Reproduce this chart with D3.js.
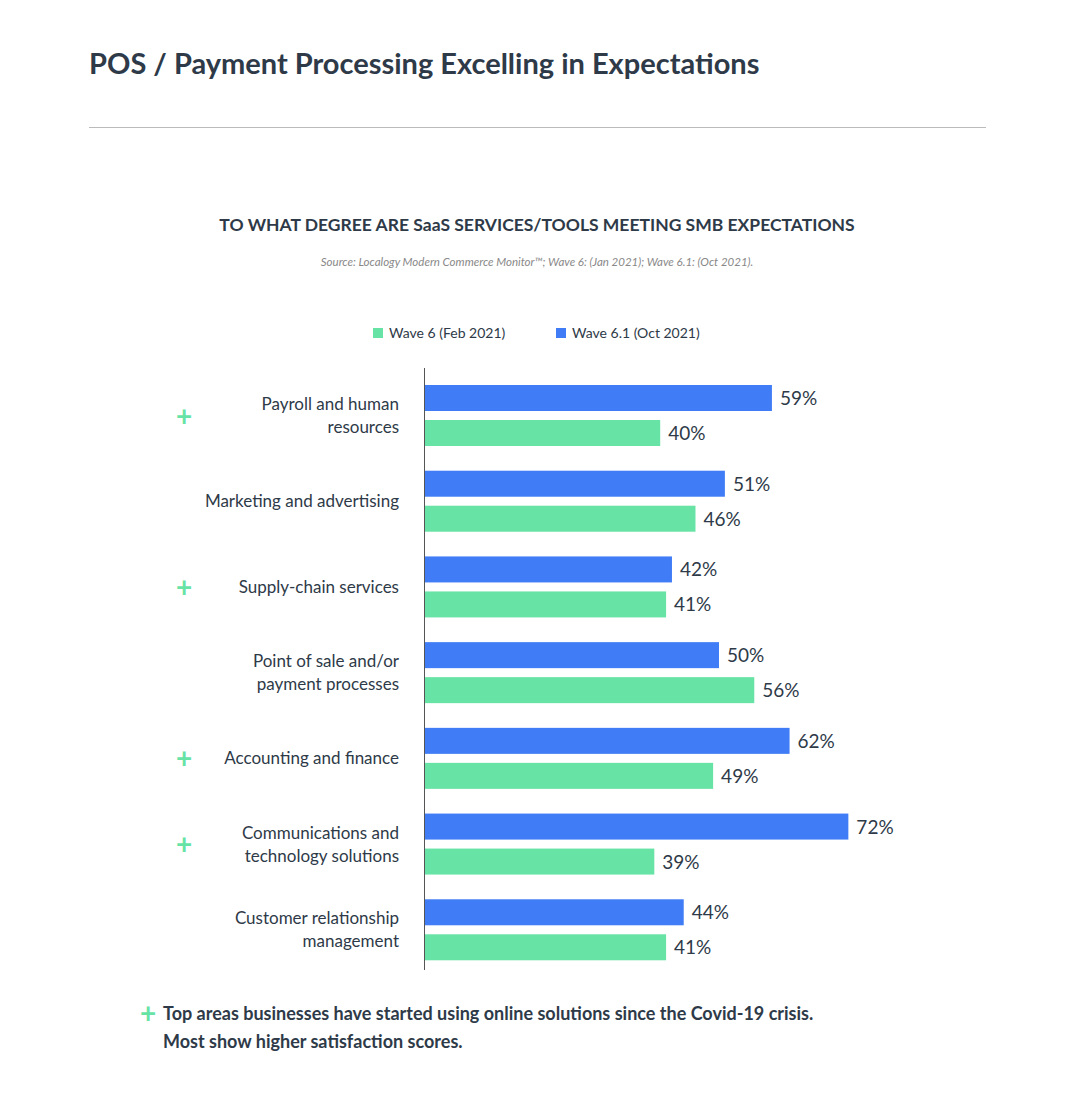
<!DOCTYPE html>
<html><head><meta charset="utf-8">
<script src="https://cdn.jsdelivr.net/npm/d3@7"></script>
<style>body{margin:0;background:#fff;font-family:Lato,"Noto Sans",sans-serif;}</style>
</head><body><svg id="c" width="1066" height="1120"></svg>
<script>
var categories = ['Payroll and human\nresources','Marketing and advertising','Supply-chain services','Point of sale and/or\npayment processes','Accounting and finance','Communications and\ntechnology solutions','Customer relationship\nmanagement'];
var wave61 = [59,51,42,50,62,72,44];
var wave6 = [40,46,41,56,49,39,41];
var plusMark = [true,false,true,false,true,true,false];
var seriesNames = ['Wave 6 (Feb 2021)','Wave 6.1 (Oct 2021)'];
var blue = '#3f7cf6', green = '#67e3a5', ink = '#2e3a48';

var svg = d3.select('#c');
svg.append('text').attr('x',89).attr('y',74).attr('font-size',29).attr('font-weight',700).attr('fill',ink)
	.text('POS / Payment Processing Excelling in Expectations');
svg.append('line').attr('x1',89).attr('x2',986).attr('y1',127.5).attr('y2',127.5).attr('stroke','#bbb');
svg.append('text').attr('x',537).attr('y',231).attr('text-anchor','middle').attr('font-size',17.5).attr('font-weight',700).attr('fill',ink)
	.text('TO WHAT DEGREE ARE SaaS SERVICES/TOOLS MEETING SMB EXPECTATIONS');
svg.append('text').attr('x',537).attr('y',266).attr('text-anchor','middle').attr('font-size',11.5).attr('font-style','italic').attr('fill','#888')
	.text('Source: Localogy Modern Commerce Monitor™; Wave 6: (Jan 2021); Wave 6.1: (Oct  2021).');

// legend
[[373,green,seriesNames[0]],[556,blue,seriesNames[1]]].forEach(function(l){
	svg.append('rect').attr('x',l[0]).attr('y',328).attr('width',10).attr('height',10).attr('fill',l[1]);
	svg.append('text').attr('x',l[0]+16).attr('y',338).attr('font-size',14).attr('fill',ink).text(l[2]);
});

var x = d3.scaleLinear().domain([0,100]).range([425,1013]);
var y = d3.scaleBand().domain(d3.range(categories.length)).range([370,970]).paddingInner(0).paddingOuter(0);
var bh = 26;

var g = svg.append('g');
categories.forEach(function(c,i){
	var top = y(i) + 15;
	var mid = top + 30.5;
	g.append('rect').attr('x',x(0)).attr('y',top).attr('width',x(wave61[i])-x(0)).attr('height',bh).attr('fill',blue);
	g.append('rect').attr('x',x(0)).attr('y',top+35).attr('width',x(wave6[i])-x(0)).attr('height',bh).attr('fill',green);
	g.append('text').attr('x',x(wave61[i])+8).attr('y',top+20).attr('font-size',19).attr('fill',ink).text(wave61[i]+'%');
	g.append('text').attr('x',x(wave6[i])+8).attr('y',top+55).attr('font-size',19).attr('fill',ink).text(wave6[i]+'%');
	var lines = c.split('\n');
	var t = g.append('text').attr('text-anchor','end').attr('font-size',17).attr('fill',ink);
	lines.forEach(function(s,k){
		t.append('tspan').attr('x',399).attr('y',mid + 6 + (k-(lines.length-1)/2)*23).text(s);
	});
	if(plusMark[i]){
		g.append('text').attr('x',184).attr('y',mid+10).attr('text-anchor','middle').attr('font-size',28).attr('font-weight',700).attr('fill',green).text('+');
	}
});
svg.append('line').attr('x1',x(0)-0.5).attr('x2',x(0)-0.5).attr('y1',368).attr('y2',970).attr('stroke','#555');

svg.append('text').attr('x',148).attr('y',1023).attr('text-anchor','middle').attr('font-size',28).attr('font-weight',700).attr('fill',green).text('+');
var f = svg.append('text').attr('font-size',18).attr('font-weight',700).attr('fill',ink);
f.append('tspan').attr('x',163).attr('y',1020).text('Top areas businesses have started using online solutions since the Covid-19 crisis.');
f.append('tspan').attr('x',163).attr('y',1048).text('Most show higher satisfaction scores.');
</script></body></html>
